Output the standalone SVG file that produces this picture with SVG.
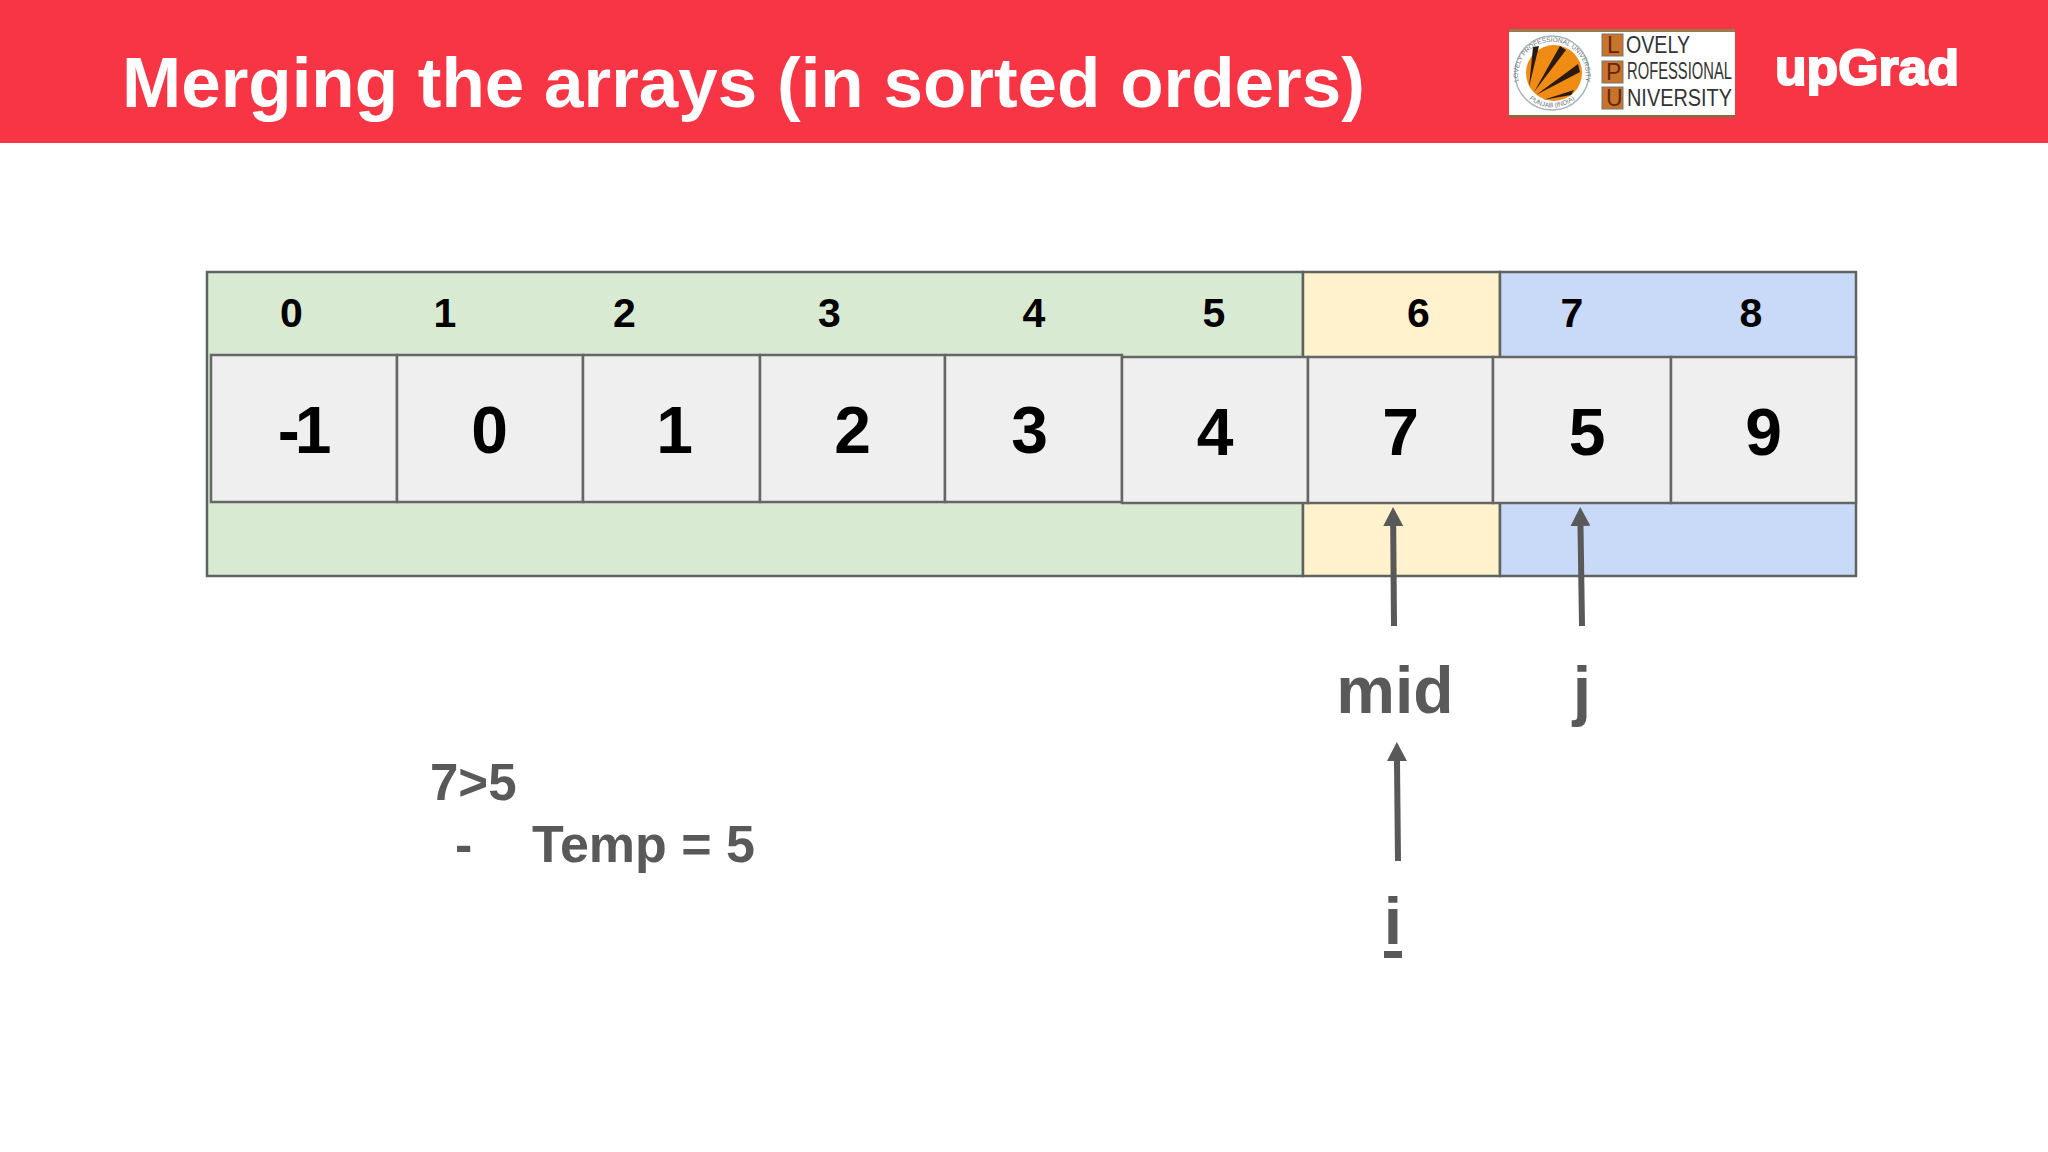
<svg xmlns="http://www.w3.org/2000/svg" width="2048" height="1152" viewBox="0 0 2048 1152">
<defs>
<style>
text{font-family:"Liberation Sans",Arial,sans-serif;font-weight:700}
.band{stroke:#5f635f;stroke-width:2.5}
.cell{fill:#efefef;stroke:#666;stroke-width:2.5}
.idx{font-size:41px;fill:#000;text-anchor:middle}
.val{font-size:66px;fill:#000;text-anchor:middle}
.lbl{font-size:66px;fill:#595959;text-anchor:middle}
.note{font-size:52px;fill:#595959}
.arrow{stroke:#595959;stroke-width:6;fill:none;marker-end:url(#head)}
.lpu{font-weight:400;fill:#333;font-size:23px}
.box{fill:#c8742a;stroke:#777;stroke-width:1}
.ring{font-weight:400;font-size:6.5px;fill:#6a7580}
</style>
<marker id="head" markerUnits="userSpaceOnUse" markerWidth="20" markerHeight="20" refX="0" refY="10" orient="auto"><path d="M0 0L19 10L0 20Z" fill="#595959"/></marker>
<path id="ringT" d="M1519 84A34 34 0 1 1 1585 84"/>
<path id="ringB" d="M1523 92A35 35 0 0 0 1581 92"/>
</defs>
<rect width="2048" height="1152" fill="#fff"/>
<g id="header">
<rect width="2048" height="143" fill="#f73545"/>
<text x="122" y="107" font-size="71" fill="#fff">Merging the arrays (in sorted orders)</text>
</g>
<g id="lpu-logo">
<rect x="1509" y="30" width="226" height="87" fill="#fff"/>
<rect x="1509" y="29" width="226" height="3" fill="#9a7a4a"/>
<rect x="1509" y="115" width="226" height="2.5" fill="#8a6a3a"/>
<circle cx="1552" cy="73" r="37" fill="none" stroke="#a9b3ba" stroke-width="1.5"/>
<circle cx="1554" cy="73" r="28" fill="#f08c14"/>
<path d="M1529 87L1533 47L1539 46ZM1534 92L1560 46L1566 50ZM1536 95L1578 64L1580 72ZM1543 100L1574 90L1571 95Z" fill="#2a1a10"/>
<text class="ring"><textPath href="#ringT" startOffset="50%" text-anchor="middle">LOVELY PROFESSIONAL UNIVERSITY</textPath></text>
<text class="ring"><textPath href="#ringB" startOffset="50%" text-anchor="middle">PUNJAB (INDIA)</textPath></text>
<rect class="box" x="1602" y="34" width="21" height="22"/><rect class="box" x="1602" y="61" width="21" height="22"/><rect class="box" x="1602" y="87" width="21" height="22"/>
<text class="lpu" x="1607" y="53" style="fill:#6a2410">L</text><text class="lpu" x="1606" y="80" style="fill:#6a2410">P</text><text class="lpu" x="1606" y="106" style="fill:#6a2410">U</text>
<text class="lpu" x="1626" y="53" textLength="64" lengthAdjust="spacingAndGlyphs">OVELY</text>
<text class="lpu" x="1627" y="79" textLength="105" lengthAdjust="spacingAndGlyphs">ROFESSIONAL</text>
<text class="lpu" x="1627" y="106" textLength="105" lengthAdjust="spacingAndGlyphs">NIVERSITY</text>
</g>
<g id="upgrad-logo"><text x="1775" y="85" font-size="50" fill="#fff" stroke="#fff" stroke-width="2" textLength="184" lengthAdjust="spacingAndGlyphs">upGrad</text></g>
<g id="bands">
<rect class="band" x="207" y="272" width="1096" height="304" fill="#d9ead3"/>
<rect class="band" x="1303" y="272" width="197" height="304" fill="#fff2cc"/>
<rect class="band" x="1500" y="272" width="356" height="304" fill="#c9daf8"/>
</g>
<g id="indices">
<text class="idx" x="291.5" y="327">0</text><text class="idx" x="445" y="327">1</text><text class="idx" x="624.5" y="327">2</text><text class="idx" x="829.5" y="327">3</text><text class="idx" x="1034" y="327">4</text><text class="idx" x="1214" y="327">5</text><text class="idx" x="1418.5" y="327">6</text><text class="idx" x="1572" y="327">7</text><text class="idx" x="1751" y="327">8</text>
</g>
<g id="cell-0"><rect class="cell" x="211" y="355" width="186" height="147"/><text class="val" x="302" y="453" letter-spacing="-5">-1</text></g>
<g id="cell-1"><rect class="cell" x="397" y="355" width="186" height="147"/><text class="val" x="489.5" y="453">0</text></g>
<g id="cell-2"><rect class="cell" x="583" y="355" width="177" height="147"/><text class="val" x="674.5" y="453">1</text></g>
<g id="cell-3"><rect class="cell" x="760" y="355" width="185" height="147"/><text class="val" x="852.5" y="453">2</text></g>
<g id="cell-4"><rect class="cell" x="945" y="355" width="177" height="147"/><text class="val" x="1029.5" y="453">3</text></g>
<g id="cell-5"><rect class="cell" x="1122" y="357" width="186" height="146"/><text class="val" x="1215" y="455">4</text></g>
<g id="cell-6"><rect class="cell" x="1308" y="357" width="185" height="146"/><text class="val" x="1400.5" y="455">7</text></g>
<g id="cell-7"><rect class="cell" x="1493" y="357" width="178" height="146"/><text class="val" x="1587" y="455">5</text></g>
<g id="cell-8"><rect class="cell" x="1671" y="357" width="185" height="146"/><text class="val" x="1763.5" y="455">9</text></g>
<g id="connectors">
<line class="arrow" x1="1394" y1="626" x2="1393.2" y2="526"/>
<line class="arrow" x1="1582" y1="626" x2="1580.5" y2="526"/>
<line class="arrow" x1="1398" y1="861" x2="1397" y2="761"/>
</g>
<g id="label-mid"><text class="lbl" x="1395" y="713">mid</text></g>
<g id="label-j"><text class="lbl" x="1582" y="713">j</text></g>
<g id="label-i"><text class="lbl" x="1393" y="944">i</text><rect x="1384" y="951" width="18" height="7" fill="#595959"/></g>
<g id="note">
<text class="note" x="430" y="800" style="font-size:51px">7&gt;5</text>
<text class="note" x="455" y="862">-</text>
<text class="note" x="532" y="862">Temp = 5</text>
</g>
</svg>
